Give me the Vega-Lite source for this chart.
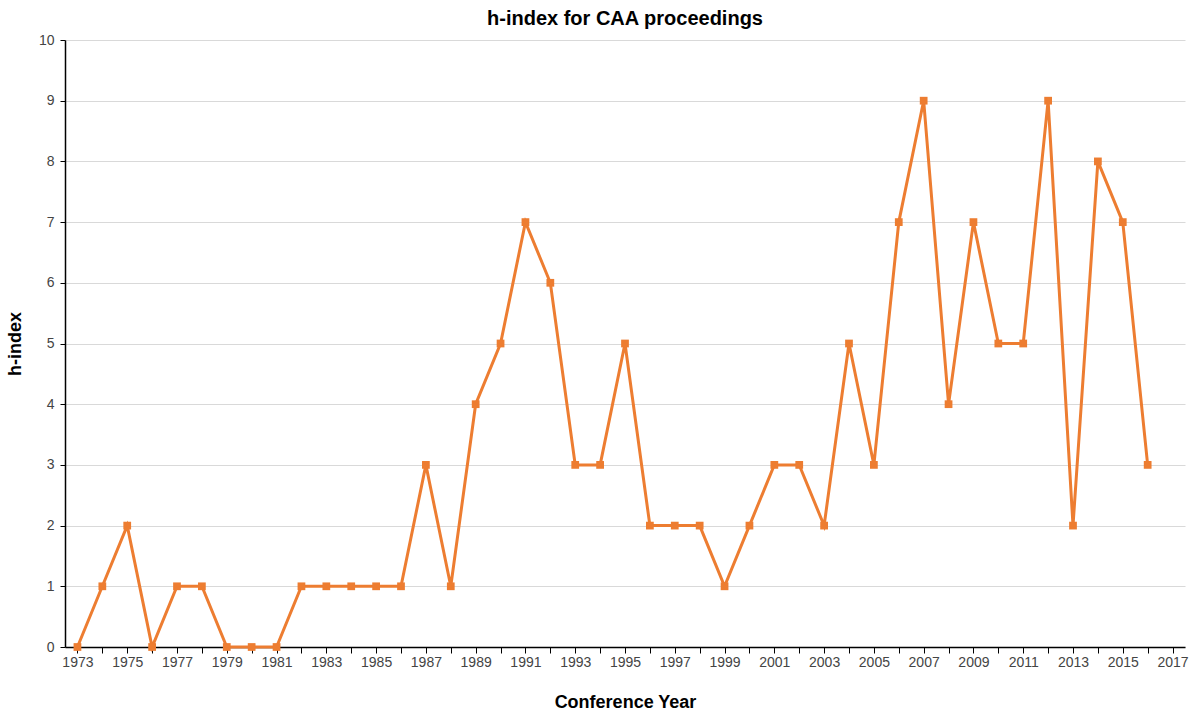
{
  "$schema": "https://vega.github.io/schema/vega-lite/v6.json",
  "width": 1120,
  "height": 607,
  "autosize": "none",
  "padding": {"left": 65, "top": 40, "right": 15, "bottom": 72},
  "background": "white",
  "title": {"text": "h-index for CAA proceedings", "font": "Liberation Sans", "fontSize": 20, "fontWeight": "bold", "color": "#000", "offset": 4},
  "config": {"view": {"stroke": null}},
  "data": {"values": [
    {"year": 1973, "h": 0}, {"year": 1974, "h": 1}, {"year": 1975, "h": 2}, {"year": 1976, "h": 0},
    {"year": 1977, "h": 1}, {"year": 1978, "h": 1}, {"year": 1979, "h": 0}, {"year": 1980, "h": 0},
    {"year": 1981, "h": 0}, {"year": 1982, "h": 1}, {"year": 1983, "h": 1}, {"year": 1984, "h": 1},
    {"year": 1985, "h": 1}, {"year": 1986, "h": 1}, {"year": 1987, "h": 3}, {"year": 1988, "h": 1},
    {"year": 1989, "h": 4}, {"year": 1990, "h": 5}, {"year": 1991, "h": 7}, {"year": 1992, "h": 6},
    {"year": 1993, "h": 3}, {"year": 1994, "h": 3}, {"year": 1995, "h": 5}, {"year": 1996, "h": 2},
    {"year": 1997, "h": 2}, {"year": 1998, "h": 2}, {"year": 1999, "h": 1}, {"year": 2000, "h": 2},
    {"year": 2001, "h": 3}, {"year": 2002, "h": 3}, {"year": 2003, "h": 2}, {"year": 2004, "h": 5},
    {"year": 2005, "h": 3}, {"year": 2006, "h": 7}, {"year": 2007, "h": 9}, {"year": 2008, "h": 4},
    {"year": 2009, "h": 7}, {"year": 2010, "h": 5}, {"year": 2011, "h": 5}, {"year": 2012, "h": 9},
    {"year": 2013, "h": 2}, {"year": 2014, "h": 8}, {"year": 2015, "h": 7}, {"year": 2016, "h": 3}
  ]},
  "mark": {"type": "line", "color": "#ED7D31", "strokeWidth": 3, "point": {"shape": "square", "size": 60, "filled": true, "color": "#ED7D31", "opacity": 1}},
  "encoding": {
    "x": {
      "field": "year", "type": "quantitative",
      "scale": {"domain": [1972.5, 2017.5], "nice": false, "zero": false},
      "axis": {
        "title": "Conference Year", "titleFont": "Liberation Sans", "titleFontSize": 18, "titleFontWeight": "bold", "titleColor": "#000", "titlePadding": 24,
        "values": [1973,1974,1975,1976,1977,1978,1979,1980,1981,1982,1983,1984,1985,1986,1987,1988,1989,1990,1991,1992,1993,1994,1995,1996,1997,1998,1999,2000,2001,2002,2003,2004,2005,2006,2007,2008,2009,2010,2011,2012,2013,2014,2015,2016,2017],
        "labelExpr": "datum.value % 2 == 1 ? format(datum.value, 'd') : ''",
        "labelFont": "Liberation Sans", "labelFontSize": 14, "labelColor": "#444",
        "grid": false, "domainColor": "#000", "domainWidth": 1.5, "tickColor": "#000", "tickSize": 6
      }
    },
    "y": {
      "field": "h", "type": "quantitative",
      "scale": {"domain": [0, 10], "nice": false},
      "axis": {
        "title": "h-index", "titleFont": "Liberation Sans", "titleFontSize": 18, "titleFontWeight": "bold", "titleColor": "#000", "titlePadding": 14,
        "tickCount": 10, "labelFont": "Liberation Sans", "labelFontSize": 14, "labelColor": "#444",
        "gridColor": "#d9d9d9", "domainColor": "#000", "domainWidth": 1.5, "ticks": true, "tickColor": "#000", "tickSize": 5, "labelPadding": 6
      }
    }
  }
}
